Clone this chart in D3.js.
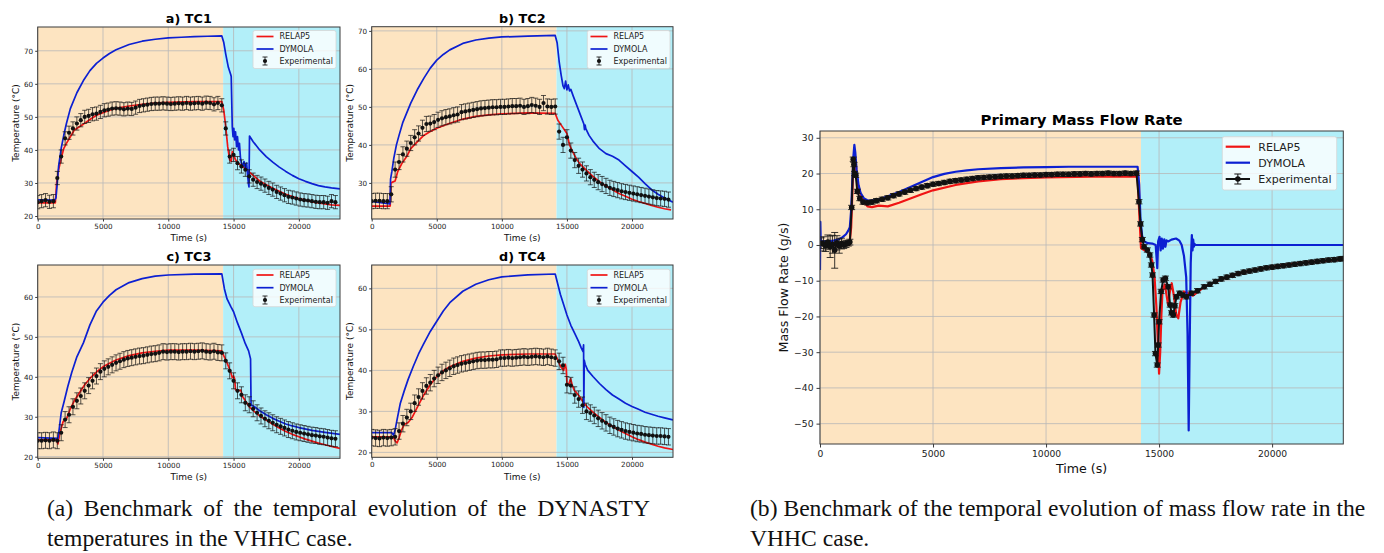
<!DOCTYPE html>
<html lang="en">
<head>
<meta charset="UTF-8">
<title>VHHC benchmark</title>
<script src="https://d3js.org/d3.v7.min.js"></script>
<style>
  body { margin: 0; background: #fff; }
  svg text { font-family: "DejaVu Sans", sans-serif; }
</style>
</head>
<body>
<div id="main"></div>
<script>
// ---- shared ----
var tMax = 23150;
var phaseSwitch = 14200;          // heating -> cooling
var timeTicks = [0, 5000, 10000, 15000, 20000];
var seriesNames = ["RELAP5", "DYMOLA", "Experimental"];
var tempErr = 2.0;                // experimental uncertainty (°C)

// experimental sample times of the temperature panels (every 300 s)
var expTempT = d3.range(0, 22801, 300);

// ---- TC1 ----
var tc1DymT = [0,1300,1400,1500,1600,1800,2000,2200,2500,3000,3500,4000,4500,5000,5500,6000,7000,8000,9000,10000,11000,12000,13000,14100,14250,14400,14600,14780,14820,14900,14960,15020,15080,15150,15230,15300,15380,15450,15530,15600,15700,15800,15900,16000,16080,16150,16180,16220,16500,17000,17500,18000,18500,19000,19500,20000,20500,21000,21500,22000,22500,23150];
var tc1DymV = [24.9,24.8,25.5,30,35,40.5,44.5,48,52.5,57.3,61,64,66.2,67.8,69.2,70.3,71.9,72.9,73.5,73.9,74.1,74.3,74.4,74.5,72.5,69,65,62.8,62.2,47,44,46.5,43,45.5,41,44,40,42,37.5,36,35,36.5,34.5,36,32,29.5,28.8,44.2,42.5,40,38,36.3,34.8,33.5,32.3,31.3,30.5,29.8,29.2,28.8,28.5,28.2];
var tc1RelT = [0,1350,1450,1600,1800,2000,2200,2500,2800,3100,3500,4000,4500,5000,5500,6000,7000,8000,9000,10000,12000,14100,14250,14400,14550,14700,14820,14900,15000,15150,15300,15500,15700,16000,16500,17000,17500,18000,18500,19000,19500,20000,20500,21000,21500,22000,22500,23150];
var tc1RelV = [24.0,24.0,30,34,37.5,40.5,42,44,46,46.8,47.8,49.2,50.5,51.3,52,52.6,53.3,53.8,54.2,54.4,54.6,54.6,52,47,41,37,36.5,39.5,38.5,37,36.2,35.5,35,34,32.3,30.6,29.5,28.4,27.5,26.6,25.9,25.3,24.8,24.3,24,23.7,23.4,23.2];
var tc1Exp = [24.2,24.5,24.8,24.3,24.5,31.5,38,43.5,45.2,46.5,48,49,50,50.3,50.8,51,51.5,52,52.2,52.5,52.6,52.5,52.3,52.5,52.4,52.8,53.3,53.5,53.7,53.9,54,54,54.1,54,53.9,54,54.1,54,54.2,54,54.1,54.2,54,54.3,54.2,53.8,54.2,53.5,46.5,38,38.5,36,35,34,32,31,30.3,29.8,29.2,28.5,28,27.3,26.8,26.3,25.8,25.6,25.3,25,24.8,24.7,24.5,24.3,24.2,24.2,24,24.5,24.2];

// ---- TC2 ----
var tc2DymT = [0,1400,1450,1550,1700,1900,2100,2400,2700,3000,3500,4000,4500,5000,5500,6000,7000,8000,9000,10000,12000,14100,14250,14400,14550,14700,14800,14900,15000,15100,15200,15300,15500,15800,16100,16300,16350,16400,16450,16700,17000,17500,18000,18500,19000,19500,20000,20500,21000,21500,22000,22500,23150];
var tc2DymV = [25.1,24.5,31,33,36.5,40,42.5,46,48.5,51,54.5,57.5,60.2,62.3,63.8,65,66.7,67.6,68.1,68.4,68.6,68.8,66.8,62,58.5,55.5,54.8,56.8,54.5,55.8,54.2,54.6,52.7,50,47.3,45.5,44,45.2,44.3,42.5,41,39,37.7,37,36,34.5,33,31.5,29.8,28.2,27,26,24.9];
var tc2RelT = [0,1420,1480,1600,1800,2000,2300,2700,3000,3500,4000,4500,5000,6000,7000,8000,9000,10000,12000,14100,14300,14600,15000,15200,15400,15700,16000,16500,17000,17500,18000,18500,19000,19500,20000,20500,21000,21500,22000,22500,23000];
var tc2RelV = [23.9,23.9,30,30.2,30.5,33,35,37,39,40.8,42.5,43.5,44.4,45.7,46.8,47.5,47.9,48.2,48.4,48.3,46.5,45,43,40,38.5,36.5,35,33.3,31.7,30.3,29.2,28.2,27.2,26.5,25.7,25.1,24.6,24.1,23.6,23.2,22.9];
var tc2Exp = [25.2,25.3,25.3,25.2,25.2,27,33.5,35.5,37.5,39,40.5,42,43,44.5,45.5,45.6,46,46.6,47,47.3,47.5,47.8,48,48.6,48.8,49,49.2,49.4,49.6,49.7,49.8,49.9,49.9,50,50,50.1,50.2,50.2,50.3,50,50.2,50.5,50.3,50,51,50.1,50,50.1,43.5,40,42,38.5,36,34.5,33.5,32.5,31.5,30.8,30.2,29.7,29.2,28.7,28.4,28.1,27.8,27.6,27.4,27.2,27,26.8,26.6,26.4,26.2,26,25.9,25.8,25.6];

// ---- TC3 ----
var tc3DymT = [0,1550,1650,1800,2000,2300,2600,3000,3500,4000,4500,5000,5500,6000,7000,8000,9000,10000,12000,14100,14300,14500,14800,15000,15300,15600,15900,16150,16300,16340,16400,16600,17000,17500,18000,18500,19000,19500,20000,21000,22000,23150];
var tc3DymV = [24.8,24.6,27,31,33.5,37.5,41,45,48.5,53,56.5,58.7,60.4,61.8,63.6,64.6,65.2,65.5,65.7,65.8,62,59.5,57.5,56.3,53.5,51,48.3,46.5,44.5,32.8,32.9,32.5,31.5,30.5,29.6,28.9,28.2,27.7,27.3,26.6,26.1,25.6];
var tc3RelT = [0,1450,1550,1700,1950,2200,2500,2800,3200,3600,4000,4500,5000,5500,6000,7000,8000,9000,10000,12000,14100,14250,14500,14750,14900,15000,15080,15150,15300,15450,15550,15700,15900,16200,16600,17000,17500,18000,18500,19000,19500,20000,20500,21000,21500,22000,22500,23150];
var tc3RelV = [24.2,24.2,23.2,26,28.8,29.4,32,34,36,38,39.6,41.2,42.5,43.4,44.2,45.3,46,46.4,46.7,46.7,46.5,45.3,43.5,41.5,39.8,40.2,39.5,36.8,36.4,36.6,36.7,35,34,32.5,31.3,30.2,29.2,28.1,27.2,26.3,25.6,25,24.4,23.9,23.4,23,22.6,22.1];
var tc3Exp = [24,24,24.1,24,24.2,24,26,29.3,30.5,32.5,34,35.2,36.5,37.8,39,40.2,41.3,42,42.5,43,43.5,43.9,44.3,44.6,44.8,45,45.2,45.3,45.5,45.7,45.8,46,46.3,46.2,46.3,46.3,46.2,46.3,46.3,46.4,46.3,46.4,46.5,46.3,46.2,46.4,46.1,46,44,41.5,39,36.5,35.5,33.5,33,32,31,30.2,29.5,29,28.5,28,27.6,27.2,26.8,26.5,26.2,26,25.8,25.6,25.4,25.3,25.1,25,24.8,24.6,24.5];

// ---- TC4 ----
var tc4DymT = [0,1550,1680,1800,1950,2200,2500,2800,3200,3600,4000,4500,5000,5500,6000,7000,8000,9000,10000,12000,14100,14300,14500,14800,15000,15300,15600,15900,16100,16230,16280,16300,16330,16400,16600,17000,17500,18000,18500,19000,19500,20000,20500,21000,21500,22000,22500,23150];
var tc4DymV = [24.8,24.8,24.2,25.5,28,32,35,37.8,41,44,46.5,49.5,52,54.5,56.5,59.3,61,62.1,62.8,63.3,63.5,61,58.5,55.5,53.5,51,49,47,45.5,44.6,46.2,31,42.5,41.5,40,38.5,36.8,35.3,34,33,32,31.2,30.5,29.8,29.3,28.8,28.4,27.9];
var tc4RelT = [0,1650,1800,1950,2100,2300,2500,2800,3100,3500,4000,4500,5000,5500,6000,7000,8000,9000,10000,12000,14100,14300,14500,14750,14870,14950,15000,15150,15280,15400,15550,15750,16000,16300,16600,17000,17500,18000,18500,19000,19500,20000,20500,21000,21500,22000,22500,23150];
var tc4RelV = [23.8,23.8,22.8,22.3,23.5,25.5,26.8,27.3,28.5,31,34,36.5,38.5,39.9,40.9,42.2,43,43.5,43.8,44,44,42.5,41,40,41.5,40.3,36.8,36.7,38,36.5,35.2,34.5,33.5,32,31,29.8,28.5,27.3,26.3,25.4,24.6,23.8,23.1,22.5,22,21.5,21.1,20.7];
var tc4Exp = [23.6,23.5,23.4,23.6,23.5,23.6,23.8,25.2,27,28.5,30,32,33.5,35,36.2,37,38,38.8,39.5,40,40.5,41,41.3,41.6,41.8,42,42.2,42.4,42.5,42.5,42.6,42.6,42.7,43,43,43.1,43,43.1,43.2,43.3,43.2,43.3,43.4,43.3,43.2,43.4,43.2,43,42.2,41.2,36.5,36.3,34,33,31.5,30,29.6,29,28.3,27.7,27.2,26.6,26.2,25.8,25.5,25.2,25,24.8,24.6,24.5,24.3,24.2,24.1,24,24,23.9,23.8];

// ---- primary mass flow rate (g/s) ----
var flowDymT = [0,15,30,60,200,400,600,800,1000,1150,1250,1320,1380,1430,1480,1520,1560,1620,1700,1800,1950,2100,2300,2600,3000,3500,4000,4500,5000,5500,6000,6500,7000,8000,9000,10000,11000,12000,13000,14050,14120,14180,14250,14350,14500,14700,14850,14920,14960,15020,15070,15120,15170,15230,15280,15330,15400,15550,15750,15900,16000,16100,16200,16260,16310,16350,16400,16450,16480,16510,16540,16570,16600,17000,23150];
var flowDymV = [-7,6.5,1.5,1,1,1.1,1.2,1.5,2.2,3,4,5,10,18,25,28,26,21,17,14.5,13,12.5,12.4,12.8,13.6,14.8,16.2,17.6,19,19.9,20.5,20.9,21.2,21.5,21.7,21.8,21.9,21.9,21.9,21.9,17,7,2.5,1,0.5,0.4,0,-6.5,1,2.3,-1.5,1.8,-1,1.6,-0.5,1.3,1,1.5,1.8,1.2,0,-3,-9,-25,-51.9,-30,-5,2.8,-1.5,1.5,-0.5,0.3,0,0,0];
var flowRelT = [0,1300,1380,1450,1520,1580,1650,1750,1900,2100,2300,2600,3000,3500,4000,4500,5000,6000,7000,8000,9000,10000,12000,14050,14130,14200,14300,14450,14600,14700,14800,14880,14950,15000,15050,15100,15150,15250,15330,15400,15480,15560,15650,15760,15850,15950,16100,16300,16500,17000,17500,18000,18500,19000,19500,20000,20500,21000,21500,22000,22500,23150];
var flowRelV = [0,0,5,18,26,23,18,15,12.5,10.8,10.6,11,10.8,11.8,13,14.2,15.3,16.8,17.8,18.4,18.7,18.9,19.1,19.2,8,-0.8,-1.3,-1.8,-2.5,-4.5,-9,-17,-28,-36,-30,-20,-13,-11,-14,-16.8,-13,-10.7,-14,-19.5,-20.5,-16,-13,-13.5,-14.2,-11.7,-10.3,-9,-8,-7.2,-6.6,-6.1,-5.6,-5.2,-4.9,-4.6,-4.4,-4.1];
var flowExpT = [50,150,250,350,450,550,650,750,850,950,1050,1150,1250,1320,1400,1470,1500,1530,1580,1650,1760,1900,2100,2300,2500,2750,3000,3250,3500,3750,4000,4250,4500,4750,5000,5250,5500,5750,6000,6250,6500,6750,7000,7250,7500,7750,8000,8250,8500,8750,9000,9250,9500,9750,10000,10250,10500,10750,11000,11250,11500,11750,12000,12250,12500,12750,13000,13250,13500,13750,14000,14110,14180,14260,14340,14480,14590,14660,14710,14780,14840,14920,14960,15000,15090,15180,15280,15400,15490,15550,15630,15700,15770,15910,16050,16210,16430,16700,17000,17250,17500,17750,18000,18250,18500,18750,19000,19250,19500,19750,20000,20250,20500,20750,21000,21250,21500,21750,22000,22250,22500,22750,23000,23150];
var flowExpV = [0.5,0.3,-0.3,0.8,-0.5,0.2,-1.5,0.6,-0.3,0.4,0,0.3,0.5,0.8,10.5,24,22.5,20,19.5,15,13,12,11.8,12,12.4,12.8,13.2,13.8,14.3,14.8,15.3,15.8,16.2,16.6,17,17.2,17.5,17.8,18,18.2,18.4,18.6,18.8,18.9,19,19.1,19.2,19.3,19.3,19.4,19.5,19.5,19.6,19.6,19.7,19.7,19.8,19.8,19.8,19.9,19.9,20,19.9,20,20,20.1,20,20,20.1,20,20.1,12.1,5.9,1.5,-0.5,-1.4,-2.8,-5.6,-8.4,-19.6,-30.4,-33.6,-28,-21.5,-13,-9.8,-9.3,-11.7,-16.8,-19,-19.6,-17,-14.5,-13.5,-14,-14.5,-13.5,-12.8,-11.7,-11,-10.2,-9.5,-9,-8.5,-8,-7.6,-7.3,-7,-6.7,-6.4,-6.2,-6,-5.8,-5.6,-5.4,-5.2,-5,-4.8,-4.6,-4.4,-4.2,-4.1,-3.9,-3.8];
var flowExpErrEarly = [1.5,2,1.5,2,3,2.5,5,2,2,1.5,1,1,0.8,0.8];
var flowExpErrRest = 0.6;
var flowTicks = [-50, -40, -30, -20, -10, 0, 10, 20, 30];

var colHeat = "#fde4c1", colCool = "#b2eff9";
var colRel = "#f01414", colDym = "#0c20d2";

var svg = d3.select("#main").append("svg")
  .attr("width", 1384).attr("height", 553);

function pts(ts, vs) {
  return ts.map(function(t, i) { return [t, vs[i]]; });
}

function drawPanel(p) {
  var x = d3.scaleLinear().domain([0, tMax]).range([p.left, p.right]);
  var y = d3.scaleLinear().domain(p.yDomain).range([p.bottom, p.top]);
  var g = svg.append("g");
  var clipId = "clip-" + p.id;
  g.append("clipPath").attr("id", clipId).append("rect")
    .attr("x", p.left).attr("y", p.top)
    .attr("width", p.right - p.left).attr("height", p.bottom - p.top);

  // heating / cooling phases
  g.append("rect").attr("x", x(0)).attr("y", p.top)
    .attr("width", x(phaseSwitch) - x(0)).attr("height", p.bottom - p.top)
    .attr("fill", colHeat);
  g.append("rect").attr("x", x(phaseSwitch)).attr("y", p.top)
    .attr("width", x(tMax) - x(phaseSwitch)).attr("height", p.bottom - p.top)
    .attr("fill", colCool);

  // grid
  g.selectAll(".gx").data(timeTicks).enter().append("line")
    .attr("x1", function(d) { return x(d); }).attr("x2", function(d) { return x(d); })
    .attr("y1", p.top).attr("y2", p.bottom)
    .attr("stroke", "#b8b8b8").attr("stroke-width", 0.8);
  g.selectAll(".gy").data(p.yTicks).enter().append("line")
    .attr("x1", p.left).attr("x2", p.right)
    .attr("y1", function(d) { return y(d); }).attr("y2", function(d) { return y(d); })
    .attr("stroke", "#b8b8b8").attr("stroke-width", 0.8);

  var plot = g.append("g").attr("clip-path", "url(#" + clipId + ")");
  var line = d3.line().x(function(d) { return x(d[0]); }).y(function(d) { return y(d[1]); });

  plot.append("path").datum(pts(p.relT, p.relV)).attr("d", line)
    .attr("fill", "none").attr("stroke", colRel).attr("stroke-width", p.lw)
    .attr("stroke-linejoin", "round");
  plot.append("path").datum(pts(p.dymT, p.dymV)).attr("d", line)
    .attr("fill", "none").attr("stroke", colDym).attr("stroke-width", p.lw)
    .attr("stroke-linejoin", "round");

  // experimental with error bars
  var exp = p.expT.map(function(t, i) { return { t: t, v: p.expV[i], e: p.errOf(i) }; });
  if (p.expLine) {
    plot.append("path").datum(exp.map(function(d) { return [d.t, d.v]; })).attr("d", line)
      .attr("fill", "none").attr("stroke", "#111").attr("stroke-width", p.expLine);
  }
  var eb = plot.append("g").attr("stroke", "#151515").attr("stroke-opacity", 0.85)
    .attr("stroke-width", p.errW);
  eb.selectAll(".v").data(exp).enter().append("line")
    .attr("x1", function(d) { return x(d.t); }).attr("x2", function(d) { return x(d.t); })
    .attr("y1", function(d) { return y(d.v - d.e); }).attr("y2", function(d) { return y(d.v + d.e); });
  [-1, 1].forEach(function(s) {
    eb.selectAll(".c" + s).data(exp).enter().append("line")
      .attr("x1", function(d) { return x(d.t) - p.cap; }).attr("x2", function(d) { return x(d.t) + p.cap; })
      .attr("y1", function(d) { return y(d.v + s * d.e); }).attr("y2", function(d) { return y(d.v + s * d.e); });
  });
  plot.append("g").selectAll("circle").data(exp).enter().append("circle")
    .attr("cx", function(d) { return x(d.t); }).attr("cy", function(d) { return y(d.v); })
    .attr("r", p.mr).attr("fill", "#111");

  // frame
  g.append("rect").attr("x", p.left).attr("y", p.top)
    .attr("width", p.right - p.left).attr("height", p.bottom - p.top)
    .attr("fill", "none").attr("stroke", "#3a3a3a").attr("stroke-width", 1);

  // axes
  var xa = d3.axisBottom(x).tickValues(timeTicks).tickFormat(d3.format("d"))
    .tickSize(p.tickLen).tickPadding(p.tickPad);
  var ya = d3.axisLeft(y).tickValues(p.yTicks).tickFormat(d3.format("d"))
    .tickSize(p.tickLen).tickPadding(p.tickPad);
  [g.append("g").attr("transform", "translate(0," + p.bottom + ")").call(xa),
   g.append("g").attr("transform", "translate(" + p.left + ",0)").call(ya)].forEach(function(a) {
    a.select(".domain").remove();
    a.selectAll("line").attr("stroke", "#3a3a3a");
    a.selectAll("text").attr("font-size", p.tickFont).attr("fill", "#222")
      .attr("font-family", "DejaVu Sans");
  });

  g.append("text").attr("x", (p.left + p.right) / 2).attr("y", p.xLabelY)
    .attr("text-anchor", "middle").attr("font-size", p.labelFont).attr("fill", "#111")
    .text("Time (s)");
  g.append("text")
    .attr("transform", "translate(" + p.yLabelX + "," + ((p.top + p.bottom) / 2) + ") rotate(-90)")
    .attr("text-anchor", "middle").attr("dominant-baseline", "central")
    .attr("font-size", p.labelFont).attr("fill", "#111").text(p.yLabel);
  g.append("text").attr("x", (p.left + p.right) / 2).attr("y", p.titleY)
    .attr("text-anchor", "middle").attr("font-size", p.titleFont).attr("font-weight", "bold")
    .attr("fill", "#000").text(p.title);

  // legend
  var L = p.legend;
  var lg = g.append("g");
  lg.append("rect").attr("x", L.x0).attr("y", L.y0)
    .attr("width", L.x1 - L.x0).attr("height", L.y1 - L.y0)
    .attr("rx", 2).attr("fill", "#fff").attr("fill-opacity", 0.8)
    .attr("stroke", "#d6d6d6").attr("stroke-width", 0.8);
  var hx0 = L.hx0, hx1 = L.hx1, hm = (hx0 + hx1) / 2;
  [colRel, colDym].forEach(function(c, i) {
    lg.append("line").attr("x1", hx0).attr("x2", hx1).attr("y1", L.rows[i]).attr("y2", L.rows[i])
      .attr("stroke", c).attr("stroke-width", p.lw);
  });
  var ey = L.rows[2];
  if (p.expLine) {
    lg.append("line").attr("x1", hx0).attr("x2", hx1).attr("y1", ey).attr("y2", ey)
      .attr("stroke", "#111").attr("stroke-width", p.expLine);
  }
  lg.append("line").attr("x1", hm).attr("x2", hm).attr("y1", ey - L.eh).attr("y2", ey + L.eh)
    .attr("stroke", "#111").attr("stroke-width", p.errW);
  [-1, 1].forEach(function(s) {
    lg.append("line").attr("x1", hm - p.cap).attr("x2", hm + p.cap)
      .attr("y1", ey + s * L.eh).attr("y2", ey + s * L.eh)
      .attr("stroke", "#111").attr("stroke-width", p.errW);
  });
  lg.append("circle").attr("cx", hm).attr("cy", ey).attr("r", p.mr).attr("fill", "#111");
  seriesNames.forEach(function(n, i) {
    lg.append("text").attr("x", L.tx).attr("y", L.rows[i]).attr("dy", "0.35em")
      .attr("font-size", p.legendFont).attr("fill", "#222").text(n);
  });
}

var small = {
  lw: 1.7, mr: 2.1, cap: 2.5, errW: 0.85, expLine: 0,
  tickLen: 2.5, tickPad: 2, tickFont: 7.2, labelFont: 9, titleFont: 12.8, legendFont: 8,
  yLabel: "Temperature (°C)", errOf: function() { return tempErr; }
};
function tempPanel(o) { return Object.assign({}, small, o); }

var panels = [
  tempPanel({ id: "tc1", title: "a) TC1", left: 37.7, right: 340, top: 27, bottom: 219,
    yDomain: [19.1, 77.2], yTicks: [20, 30, 40, 50, 60, 70], titleY: 23, xLabelY: 241, yLabelX: 16,
    dymT: tc1DymT, dymV: tc1DymV, relT: tc1RelT, relV: tc1RelV, expT: expTempT, expV: tc1Exp,
    legend: { x0: 253, x1: 336, y0: 30.5, y1: 68.5, rows: [36.5, 49, 61], hx0: 256.5, hx1: 273.5, tx: 279.5, eh: 4 } }),
  tempPanel({ id: "tc2", title: "b) TC2", left: 371.7, right: 673, top: 26.7, bottom: 219,
    yDomain: [20.5, 71.1], yTicks: [30, 40, 50, 60, 70], titleY: 23, xLabelY: 241, yLabelX: 350,
    dymT: tc2DymT, dymV: tc2DymV, relT: tc2RelT, relV: tc2RelV, expT: expTempT, expV: tc2Exp,
    legend: { x0: 587.3, x1: 670, y0: 30.5, y1: 68.5, rows: [36.5, 49, 61], hx0: 590.5, hx1: 607.5, tx: 613.5, eh: 4 } }),
  tempPanel({ id: "tc3", title: "c) TC3", left: 37.7, right: 340, top: 265, bottom: 458.3,
    yDomain: [19.6, 68.0], yTicks: [20, 30, 40, 50, 60], titleY: 261, xLabelY: 480, yLabelX: 16,
    dymT: tc3DymT, dymV: tc3DymV, relT: tc3RelT, relV: tc3RelV, expT: expTempT, expV: tc3Exp,
    legend: { x0: 253, x1: 336, y0: 269.3, y1: 306.7, rows: [275, 287.7, 300], hx0: 256.5, hx1: 273.5, tx: 279.5, eh: 4 } }),
  tempPanel({ id: "tc4", title: "d) TC4", left: 371.7, right: 673, top: 265, bottom: 457.3,
    yDomain: [18.8, 65.7], yTicks: [20, 30, 40, 50, 60], titleY: 261, xLabelY: 480, yLabelX: 350,
    dymT: tc4DymT, dymV: tc4DymV, relT: tc4RelT, relV: tc4RelV, expT: expTempT, expV: tc4Exp,
    legend: { x0: 587.3, x1: 670, y0: 269.3, y1: 306.7, rows: [275, 287.7, 300], hx0: 590.5, hx1: 607.5, tx: 613.5, eh: 4 } }),
  { id: "flow", title: "Primary Mass Flow Rate", left: 820, right: 1343.3, top: 131, bottom: 444,
    yDomain: [-55.7, 31.9], yTicks: flowTicks, titleY: 125, xLabelY: 473, yLabelX: 783,
    yLabel: "Mass Flow Rate (g/s)",
    lw: 2.2, mr: 2.8, cap: 3.5, errW: 1, expLine: 2,
    tickLen: 3.5, tickPad: 3, tickFont: 9.2, labelFont: 12.6, titleFont: 14.9, legendFont: 11,
    dymT: flowDymT, dymV: flowDymV, relT: flowRelT, relV: flowRelV, expT: flowExpT, expV: flowExpV,
    errOf: function(i) { return i < flowExpErrEarly.length ? flowExpErrEarly[i] : flowExpErrRest; },
    legend: { x0: 1222.3, x1: 1336.7, y0: 136.7, y1: 190, rows: [146.7, 162.7, 179], hx0: 1225.7, hx1: 1250, tx: 1258.3, eh: 5 } }
];
panels.forEach(drawPanel);

// captions (serif, justified first line on the left)
function caption(x, lines, width, y0) {
  lines.forEach(function(s, i) {
    var t = svg.append("text").attr("x", x).attr("y", y0 + i * 30)
      .attr("font-size", 23.6).attr("fill", "#111")
      .style("font-family", "'Liberation Serif', serif").text(s);
    if (i === 0 && width) {
      var gaps = s.split(" ").length - 1;
      var extra = (width - t.node().getComputedTextLength()) / gaps;
      if (extra > 0) t.attr("word-spacing", extra);
    }
  });
}
caption(47, ["(a) Benchmark of the temporal evolution of the DYNASTY", "temperatures in the VHHC case."], 603, 516);
caption(750, ["(b) Benchmark of the temporal evolution of mass flow rate in the", "VHHC case."], 0, 516);
</script>
</body>
</html>
